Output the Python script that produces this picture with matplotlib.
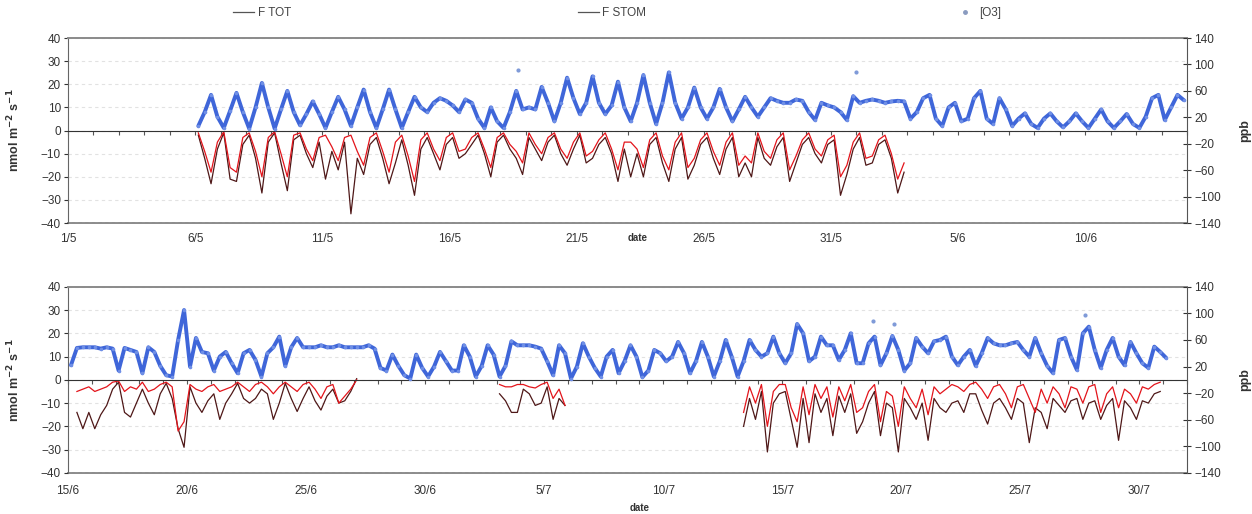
import numpy as np
import matplotlib.pyplot as plt

plt.rcParams['font.family'] = ['Liberation Sans', 'DejaVu Sans']

# Samples every 6 h (03, 09, 15, 21 h). Day 0 = 1 May (upper) / 15 June (lower).
may_labels = ['1/5', '6/5', '11/5', '16/5', '21/5', '26/5', '31/5', '5/6', '10/6']
jul_labels = ['15/6', '20/6', '25/6', '30/6', '5/7', '10/7', '15/7', '20/7', '25/7', '30/7']

# [O3] in ppb, 1 May - 14 June, starting 6/5 03h
may_o3_start = 5.125
may_o3 = [
    7, 28, 54, 21,   4, 30, 57, 28,   3, 35, 72, 35,   3, 32, 60, 28,
    8, 25, 44, 25,   4, 28, 51, 32,   7, 35, 62, 28,   4, 32, 62, 32,
    4, 28, 51, 35,   28, 42, 49, 45,  38, 28, 47, 42,  18, 4, 35, 14,
    4, 28, 60, 32,   35, 32, 66, 42,  14, 42, 80, 49,  25, 42, 82, 42,
    25, 38, 74, 35,  14, 42, 84, 42,  10, 42, 88, 42,  18, 35, 65, 35,
    18, 35, 63, 35,  14, 32, 51, 35,  21, 35, 49, 45,  42, 42, 47, 45,
    28, 16, 42, 38,  35, 28, 16, 52,  42, 45, 47, 45,  42, 44, 45, 44,
    18, 28, 49, 54,  18, 7, 35, 42,   14, 18, 49, 60,  18, 10, 49, 32,
    7, 18, 26, 10,   4, 18, 26, 14,   5, 14, 26, 14,   4, 18, 32, 14,
    4, 14, 25, 10,   4, 21, 49, 54,   16, 35, 54, 46,
]
may_o3_peak_t = [17.7, 31.0]
may_o3_peak = [91, 88]

# fluxes in nmol m-2 s-1, 6/5 - 2/6
may_flux_start = 5.125
may_ftot = [
    -2, -12, -23, -8,   -1, -21, -22, -6,   -2, -12, -27, -5,   -1, -14, -26, -4,
    -2, -10, -16, -5,   -21, -9, -17, -5,   -36, -12, -19, -6,  -3, -12, -23, -14,
    -4, -15, -28, -8,   -3, -10, -17, -6,   -3, -12, -10, -6,   -2, -10, -20, -5,
    -2, -8, -12, -19,   -3, -8, -13, -5,    -2, -10, -15, -8,   -2, -14, -12, -6,
    -3, -10, -22, -8,   -20, -10, -20, -6,  -3, -14, -22, -8,   -3, -21, -15, -6,
    -3, -12, -19, -8,   -3, -20, -14, -20,  -3, -12, -15, -7,   -3, -22, -14, -6,
    -3, -10, -14, -6,   -4, -28, -19, -8,   -3, -15, -14, -6,   -4, -12, -27, -18,
]
may_fstom = [
    -1, -9, -18, -5,    -0.5, -16, -18, -3, -1, -9, -20, -3,    -0.5, -10, -20, -2,
    -1, -8, -13, -3,    -2, -7, -13, -3,    -2, -9, -15, -3,    -1, -9, -18, -5,
    -2, -11, -22, -4,   -1, -8, -13, -3,    -1, -9, -8, -3,     -1, -8, -16, -3,
    -1, -6, -9, -14,    -1, -6, -10, -3,    -1, -8, -12, -5,    -1, -11, -9, -4,
    -1, -8, -17, -5,    -5, -8, -16, -4,    -1, -11, -17, -5,   -1, -16, -12, -4,
    -1, -9, -15, -5,    -1, -15, -11, -14,  -1, -9, -12, -4,    -1, -17, -11, -4,
    -1, -8, -11, -4,    -2, -20, -15, -5,   -1, -12, -11, -4,   -2, -10, -21, -14,
]

# [O3] in ppb, 15 June - 31 July
jul_o3_start = 0.125
jul_o3 = [
    22, 48, 49, 49,  49, 47, 49, 47,  14, 48, 45, 42,  10, 49, 42, 21,
    7, 5, 60, 105,   20, 63, 42, 40,  14, 35, 42, 25,  10, 40, 45, 30,
    5, 40, 49, 65,   21, 49, 63, 49,  49, 49, 52, 49,  49, 52, 49, 49,
    49, 49, 52, 47,  18, 14, 38, 21,  7, 2, 38, 18,    5, 20, 42, 28,
    14, 14, 52, 35,  5, 21, 52, 38,   5, 21, 58, 52,   52, 52, 50, 47,
    28, 7, 52, 40,   2, 20, 55, 35,   18, 5, 35, 45,   10, 28, 52, 35,
    4, 14, 45, 40,   28, 35, 57, 40,  10, 28, 57, 35,  5, 28, 60, 35,
    5, 28, 60, 45,   35, 40, 65, 40,  25, 40, 84, 70,  28, 35, 65, 52,
    52, 30, 45, 70,  25, 25, 55, 65,  22, 40, 66, 45,  14, 25, 63, 50,
    40, 58, 60, 65,  35, 22, 35, 45,  21, 40, 63, 55,  52, 52, 55, 57,
    45, 35, 63, 40,  21, 10, 60, 63,  35, 15, 70, 80,  45, 18, 45, 63,
    35, 22, 57, 40,  25, 18, 50, 42,  33,
]
jul_o3_peak_t = [33.8, 34.7, 42.7]
jul_o3_peak = [88, 84, 98]

# fluxes, three measurement periods
jul_flux_start = [0.375, 18.125, 28.375]
jul_ftot = [
    [-14, -21, -14, -21, -15, -11, -4, -1, -14, -16, -10, -4, -10, -15, -6, -1.5,
     -8, -21, -29, -3, -10, -14, -9, -6, -17, -10, -6, -1.5, -8, -10, -8, -4,
     -6, -17, -10, -1.5, -8, -13.6, -8, -3, -9, -13, -7, -4, -10, -9, -5, 0.5],
    [-6, -9, -14, -14, -4, -6, -11, -10, -3, -17, -8, -11],
    [-20, -8, -17,
     -5, -31, -10, -6,   -5, -17, -29, -8,   -27, -6, -14, -8,   -24, -7, -14, -6,
     -23, -18, -10, -5,  -24, -10, -12, -31, -8, -12, -17, -10,  -26, -8, -12, -14,
     -10, -9, -14, -6,   -6, -13, -19, -10,  -8, -12, -17, -8,   -10, -27, -12, -14,
     -21, -8, -11, -14,  -9, -8, -17, -10,   -9, -17, -11, -8,   -26, -9, -12, -17,
     -9, -10, -6, -5],
]
jul_fstom = [
    [-5, -4, -3, -5, -4, -3, -1, -0.5, -5, -3, -4, -1, -5, -4, -2, -1,
     -3, -22, -18, -2, -4, -5, -3, -2, -5, -4, -3, -1, -3, -5, -2, -1,
     -3, -6, -3, -1, -3, -5, -2, -1, -4, -8, -3, -2, -10, -7, -4, 0],
    [-2, -3, -3, -2, -2, -3, -3.5, -2, -1, -8, -4, -11],
    [-14, -3, -10,
     -2, -20, -5, -2,    -2, -12, -18, -3,   -15, -2, -8, -3,    -16, -3, -9, -2,
     -14, -12, -5, -2,   -18, -5, -7, -20,   -3, -8, -12, -4,    -15, -3, -6, -4,
     -2, -3, -5, -2,     -1, -4, -8, -3,     -2, -6, -12, -3,    -2, -8, -14, -4,
     -10, -3, -6, -12,   -3, -4, -10, -3,    -2, -14, -6, -3,    -12, -4, -6, -10,
     -3, -4, -2, -1],
]

C_TOT = '#4e1717'
C_STOM = '#e3141b'
C_O3 = '#3f66d9'
TXT = '#333333'


def times(start, vals):
    return start + 0.25 * np.arange(len(vals))


def setup(ax, xmax, labels, label_pad):
    ax.set_xlim(0, xmax)
    ax.set_ylim(-40, 40)
    ax.set_yticks(range(-40, 41, 10))
    ax.yaxis.grid(True, color='#e2e2e2', ls=(0, (3, 3)), lw=0.8)
    ax.set_axisbelow(True)
    # category axis crossing at zero, one tick per day
    ax.spines['bottom'].set_position(('data', 0))
    ax.spines['bottom'].set_color('#333333')
    ax.set_xticks(np.arange(0, xmax + 1))
    ax.tick_params(axis='x', direction='out', length=3, width=0.8,
                   colors='#555555', labelbottom=False)
    ax.tick_params(axis='y', direction='out', length=3, labelsize=8.5,
                   colors=TXT, pad=2)
    ax.spines['top'].set_color('#8a8a8a')
    ax.spines['top'].set_linewidth(1.4)
    ax.spines['left'].set_color('#666666')
    ax.spines['right'].set_visible(False)
    # date labels along the lower edge of the plot area
    sec = ax.secondary_xaxis('bottom')
    sec.set_xticks(np.arange(len(labels)) * 5, labels)
    sec.tick_params(length=0, labelsize=8.5, colors=TXT, pad=label_pad)
    sec.spines['bottom'].set_color('#8a8a8a')
    sec.spines['bottom'].set_linewidth(1.4)
    ax.set_ylabel(r'nmol m$^{\mathbf{-2}}$ s$^{\mathbf{-1}}$', fontsize=9,
                  fontweight='bold', color=TXT)
    ax.yaxis.set_label_coords(-0.041, 0.5)

    ax2 = ax.twinx()
    ax2.set_ylim(-140, 140)
    ax2.set_yticks(range(-140, 141, 40))
    ax2.tick_params(axis='y', direction='inout', length=6, labelsize=8.5,
                    colors=TXT, pad=2)
    for s in ['top', 'bottom', 'left']:
        ax2.spines[s].set_visible(False)
    ax2.spines['right'].set_color('#555555')
    ax2.set_ylabel('ppb', fontsize=9, fontweight='bold', color=TXT)
    ax2.yaxis.set_label_coords(1.047, 0.5)
    return ax2


def draw_o3(ax2, t, vals):
    # dense half-hourly dots read as a thick dotted band
    ax2.plot(t, vals, color=C_O3, lw=2.8, solid_joinstyle='round',
             solid_capstyle='round')
    ax2.plot(t, vals, ls='none', marker='o', ms=1.6, color='#6f8fe6')


fig = plt.figure(figsize=(12.52, 5.14), dpi=100)
ax_top = fig.add_axes([0.0543, 0.566, 0.8938, 0.360])
ax_bot = fig.add_axes([0.0543, 0.080, 0.8938, 0.362])

ax_top2 = setup(ax_top, 44, may_labels, 7)
ax_bot2 = setup(ax_bot, 47, jul_labels, 9)

# upper panel
ax_top.plot(times(may_flux_start, may_ftot), may_ftot, color=C_TOT, lw=0.9)
ax_top.plot(times(may_flux_start, may_fstom), may_fstom, color=C_STOM, lw=0.9)
draw_o3(ax_top2, times(may_o3_start, may_o3), may_o3)
ax_top2.plot(may_o3_peak_t, may_o3_peak, 'o', color='#7f9ad8', ms=2)

# lower panel
for start, tot, stom in zip(jul_flux_start, jul_ftot, jul_fstom):
    ax_bot.plot(times(start, tot), tot, color=C_TOT, lw=0.9)
    ax_bot.plot(times(start, stom), stom, color=C_STOM, lw=0.9)
draw_o3(ax_bot2, times(jul_o3_start, jul_o3), jul_o3)
ax_bot2.plot(jul_o3_peak_t, jul_o3_peak, 'o', color='#7f9ad8', ms=2)

fig.text(638 / 1252, 1 - 238 / 514, 'date', fontsize=7, fontweight='bold',
         color=TXT, ha='center', va='center')
fig.text(640 / 1252, 1 - 508 / 514, 'date', fontsize=7, fontweight='bold',
         color=TXT, ha='center', va='center')

# legend entries spread above the upper panel
legend_items = [('F TOT', 262), ('F STOM', 612), ('[O3]', 978)]
for name, xc in legend_items:
    if name == '[O3]':
        h = plt.Line2D([], [], ls='none', marker='o', ms=2.5, color='#8a9bc0')
    else:
        h = plt.Line2D([], [], color='#555555', lw=0.9)
    fig.legend([h], [name], loc='center', bbox_to_anchor=(xc / 1252, 1 - 13 / 514),
               frameon=False, fontsize=8.5, handlelength=1.8, handletextpad=0.3,
               labelcolor='#444444')

fig.savefig('out.png', dpi=100)
